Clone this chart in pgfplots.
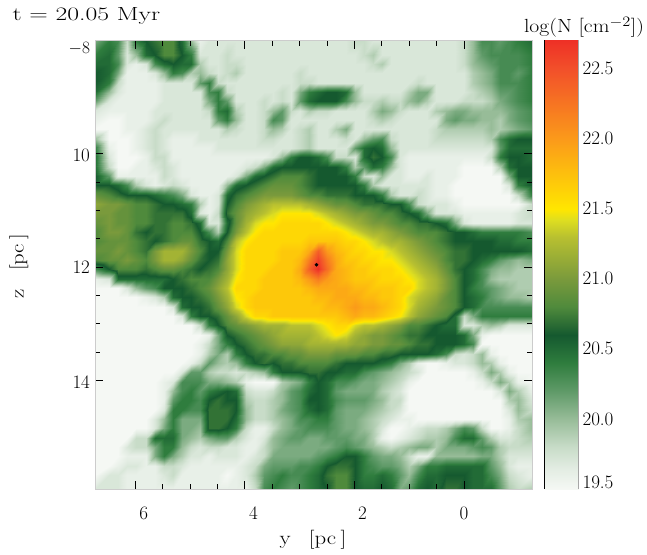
\documentclass[border=0pt]{standalone}
\usepackage{pgfplots}
\pgfplotsset{compat=1.18}
\newcount\ix \newcount\iy
\newtoks\coordtoks
\makeatletter
\def\addcell#1{\ifnum\ix<48
 \edef\cx{\strip@pt\dimexpr 6.6371pt-0.1658pt*\ix\relax}%
 \edef\cy{\strip@pt\dimexpr 8.0874pt+0.1648pt*\iy\relax}%
 \ifnum\ix=0 \def\cx{6.72}\fi \ifnum\ix=47 \def\cx{-1.24}\fi
 \ifnum\iy=0 \def\cy{8.005}\fi \ifnum\iy=47 \def\cy{15.915}\fi
 \edef\tmp{(\cx,\cy) [#1e-1] }%
 \coordtoks\expandafter\expandafter\expandafter{\expandafter\the\expandafter\coordtoks\tmp}%
 \advance\ix by 1 \fi\edef\lastv{#1}}
\def\rowscan#1 {\ifx @#1\else\addcell{#1}\expandafter\rowscan\fi}
\def\R#1{\ix=0 \rowscan#1 @ \loop\ifnum\ix<48 \addcell{\lastv}\repeat\advance\iy by 1 }
\makeatother
\R{201 204 203 198 204 206 207 208 208 205 200 196 197 197 197 197 197 197 197 197 197 197 197 197 197 197 197 197 198 198 197 197 197 197 197 197 197 197 197 197 198 200 203 203 202 203 204 205}
\R{204 205 202 197 200 205 206 208 208 206 204 197 197 197 198 197 197 197 197 197 197 197 197 197 197 197 197 197 197 198 199 197 197 197 197 197 197 197 197 197 198 200 202 203 203 203 203 204}
\R{205 205 203 197 196 197 203 205 206 205 205 199 197 197 198 198 197 197 197 197 197 197 197 197 197 197 197 197 197 197 198 199 197 197 197 197 197 197 197 197 198 200 201 202 203 203 203 204}
\R{206 205 201 196 196 196 197 200 204 203 199 200 198 197 198 199 197 197 197 197 197 197 198 197 197 197 197 197 197 197 197 197 197 197 197 197 197 197 197 197 197 199 200 201 203 203 202 204}
\R{206 204 198 196 196 196 196 197 197 197 197 202 204 198 197 197 197 197 197 197 197 197 198 198 197 197 197 197 197 197 197 197 197 197 197 198 197 197 197 197 197 199 200 201 203 203 203 204}
\R{205 200 197 196 196 196 196 197 197 197 197 197 203 204 198 197 197 197 197 197 198 197 201 204 205 206 206 205 200 197 197 197 197 197 199 201 201 197 197 197 197 198 199 200 202 202 203 204}
\R{202 197 196 196 196 196 196 197 197 197 197 197 201 204 202 197 197 197 198 197 198 197 202 205 206 206 206 203 200 198 198 199 198 198 200 201 199 197 197 197 198 198 198 199 201 202 203 204}
\R{197 196 196 196 196 196 197 197 197 197 197 197 198 204 205 199 197 197 198 200 202 198 197 199 198 198 197 197 197 197 199 201 200 198 197 197 197 199 200 201 201 200 200 200 200 201 202 203}
\R{196 195 195 196 196 196 197 198 197 197 197 197 197 202 204 200 197 197 198 203 202 197 197 197 197 197 197 197 197 197 198 199 198 197 197 197 197 197 201 202 201 201 200 200 199 201 202 203}
\R{195 195 195 196 196 197 198 197 197 197 197 197 197 197 199 198 197 197 198 200 199 197 198 199 197 197 199 201 197 197 197 197 197 197 197 197 197 198 199 199 199 199 199 200 199 200 201 202}
\R{200 195 195 195 196 197 198 197 196 196 196 197 197 197 197 197 197 197 198 198 197 197 198 199 197 197 197 198 197 200 202 203 198 197 197 197 197 198 198 198 198 198 198 199 203 205 206 206}
\R{204 196 195 195 196 197 198 197 196 196 196 196 196 197 197 197 197 197 197 197 197 197 198 199 197 197 197 197 202 205 206 205 200 197 197 197 197 197 197 197 197 197 197 197 202 205 205 205}
\R{205 197 195 195 195 196 198 198 196 196 196 196 196 196 196 196 196 196 196 197 200 204 206 206 205 203 198 198 197 205 207 206 203 197 196 196 196 196 196 196 196 196 196 198 204 206 206 205}
\R{205 198 195 195 196 196 197 198 197 196 196 196 196 196 196 196 197 198 201 205 206 206 206 206 206 206 206 204 199 202 205 204 200 197 196 196 196 196 196 196 195 195 195 195 199 205 206 206}
\R{206 202 196 196 196 196 196 198 197 196 196 196 196 196 196 197 201 205 206 207 208 208 208 207 206 206 206 206 204 198 197 200 197 197 196 196 197 196 196 196 195 195 195 195 195 201 206 206}
\R{206 206 205 203 199 197 196 197 198 197 196 196 196 196 200 205 206 207 208 209 209 209 208 207 206 206 206 206 206 204 199 197 197 197 197 197 197 196 196 195 195 195 195 195 195 197 204 206}
\R{209 208 207 206 206 206 205 204 203 201 197 196 196 197 205 207 208 209 210 210 210 210 209 208 208 207 207 207 206 206 206 204 199 197 197 198 197 196 196 195 195 195 195 195 195 195 198 204}
\R{211 210 210 209 208 208 207 206 206 205 204 199 196 197 206 208 210 211 212 213 213 213 213 212 211 210 209 209 208 207 207 207 206 206 203 198 197 197 197 196 195 195 195 195 195 195 195 198}
\R{210 210 209 209 208 208 207 207 207 207 205 197 196 198 207 209 211 212 213 214 215 215 215 215 214 213 212 211 210 210 209 208 208 207 206 205 201 197 197 197 196 196 196 196 196 196 197 198}
\R{209 210 209 209 208 208 207 207 208 208 207 205 197 197 205 209 212 214 215 215 216 216 216 216 216 215 214 213 212 211 210 210 209 208 208 207 207 206 205 201 197 196 196 196 196 196 197 197}
\R{208 210 210 209 207 206 207 207 208 208 208 206 203 199 206 210 213 215 216 216 216 216 216 216 216 216 216 215 214 213 212 212 211 210 209 208 208 208 207 206 206 205 204 204 204 204 204 203}
\R{208 209 209 209 208 207 206 207 208 209 209 207 206 205 208 213 215 216 216 216 216 216 216 217 217 217 217 216 216 215 214 213 212 212 211 210 209 208 207 206 206 206 206 206 205 205 204 204}
\R{209 209 210 209 208 207 210 212 212 212 210 208 206 206 210 214 216 216 216 216 217 217 217 219 224 220 218 217 216 216 215 215 214 213 212 211 210 209 208 207 207 206 206 206 206 206 206 205}
\R{208 209 209 210 209 208 210 212 212 211 209 207 206 207 211 214 216 216 216 216 217 217 218 222 226 222 219 217 217 216 216 215 215 214 213 212 211 210 208 207 207 206 205 204 202 201 200 201}
\R{203 206 208 208 208 207 208 209 209 208 207 206 207 208 211 214 216 216 216 217 217 217 219 224 227 223 219 218 217 217 216 216 216 215 214 213 212 211 209 207 206 205 203 201 200 200 199 199}
\R{196 197 205 205 205 205 205 205 206 207 208 208 208 210 212 215 216 216 217 217 217 217 218 220 222 220 219 218 217 217 217 216 216 216 215 214 213 212 210 208 206 205 203 200 199 199 199 199}
\R{195 195 195 197 200 202 203 206 206 206 207 208 209 211 213 216 216 216 217 217 217 217 217 218 219 219 219 219 218 218 217 217 217 216 216 214 213 212 210 208 206 204 203 202 201 200 199 199}
\R{195 195 195 195 195 196 197 199 205 206 206 207 208 210 212 215 216 217 217 217 217 217 217 217 218 218 219 219 219 218 218 217 217 216 214 213 212 211 209 208 206 205 204 202 201 200 200 199}
\R{195 195 195 195 195 195 195 195 197 205 206 206 207 209 211 214 216 217 217 217 217 217 217 217 217 218 218 219 220 219 219 218 217 216 214 212 211 210 209 208 206 205 203 203 203 203 203 203}
\R{195 195 195 195 195 195 195 195 195 197 204 206 206 207 209 211 214 216 216 217 217 217 217 217 217 217 217 218 219 218 218 217 216 215 213 211 210 209 208 205 198 201 204 204 204 204 204 204}
\R{195 195 195 195 195 195 195 195 195 195 195 198 204 206 208 209 210 211 212 212 212 213 213 213 214 215 216 216 214 213 213 212 211 210 208 208 207 206 205 205 197 197 199 200 199 197 197 197}
\R{195 195 195 195 195 195 195 195 195 195 195 195 196 201 206 207 208 209 210 211 212 212 212 212 213 214 215 214 212 211 210 210 209 208 207 207 206 206 206 206 205 201 196 195 195 195 195 195}
\R{195 195 195 195 195 195 195 195 195 195 195 196 198 201 204 206 207 208 209 210 211 211 211 212 212 212 212 212 211 211 210 210 209 209 208 207 207 206 206 206 205 203 195 195 195 195 195 195}
\R{195 195 195 195 195 195 195 195 195 195 195 196 199 201 199 204 206 207 207 208 208 209 209 210 210 210 209 209 209 208 208 207 207 206 206 206 206 205 203 198 197 198 200 196 195 195 195 195}
\R{195 195 195 195 195 195 195 195 195 195 196 198 202 200 199 200 204 206 207 206 207 207 208 208 208 208 207 206 206 206 206 205 204 201 199 196 195 195 196 197 197 198 200 199 196 195 195 195}
\R{195 195 195 195 195 195 195 195 195 197 202 202 199 198 198 197 198 199 200 204 206 206 206 207 207 206 206 205 205 203 202 201 200 199 198 197 195 195 195 195 195 196 198 201 199 196 195 195}
\R{195 195 195 195 195 195 195 196 197 203 203 203 201 201 200 199 196 195 195 195 199 200 201 204 206 205 203 203 202 201 201 200 199 198 196 195 195 195 195 195 195 195 196 198 201 199 196 195}
\R{195 195 195 195 195 195 195 196 200 203 204 202 204 205 206 205 198 197 197 198 200 202 203 205 206 205 202 201 201 201 201 199 198 197 195 195 195 195 195 195 195 195 195 195 197 201 199 196}
\R{195 195 195 195 195 195 195 196 202 204 204 203 206 207 206 206 199 198 198 199 200 202 203 206 206 205 203 202 202 202 201 200 198 198 195 195 195 195 195 195 195 195 195 195 195 199 200 197}
\R{195 195 195 195 195 195 195 197 204 204 203 203 207 207 207 206 200 198 198 199 201 202 203 205 206 205 202 201 201 201 200 199 198 197 195 195 195 195 195 195 195 195 195 195 195 197 200 198}
\R{195 195 195 195 195 195 197 200 204 201 201 201 207 207 207 205 200 198 198 199 200 201 203 203 204 204 202 201 201 200 199 198 197 196 196 195 195 195 195 195 195 195 195 195 195 196 199 200}
\R{195 195 195 195 195 195 197 201 204 201 201 200 207 207 206 204 198 196 196 198 200 201 202 203 203 203 202 201 201 200 199 197 195 195 196 197 198 198 199 201 203 202 198 195 195 196 198 200}
\R{195 195 195 195 198 198 205 205 205 201 200 199 201 202 202 199 197 196 197 200 201 202 202 201 201 202 202 202 201 201 199 196 195 196 197 198 199 199 200 203 205 205 202 199 197 197 198 199}
\R{195 195 195 197 198 198 201 204 204 200 198 197 198 198 197 197 196 196 198 200 201 201 201 201 201 201 202 203 202 201 200 199 198 199 200 201 201 199 201 201 201 202 203 202 199 198 198 198}
\R{195 195 195 196 196 196 201 204 201 199 197 197 196 197 197 197 196 197 198 201 201 201 201 201 202 203 204 206 206 204 202 201 201 200 198 196 196 200 200 200 200 200 201 201 199 197 197 197}
\R{195 195 196 197 197 196 196 198 198 197 196 196 196 196 196 196 197 198 201 202 202 202 203 203 204 206 207 207 206 204 203 202 202 201 199 201 204 204 205 205 205 205 205 202 200 197 196 196}
\R{195 197 197 196 196 196 196 197 198 196 196 196 196 196 195 196 197 199 202 203 204 203 203 204 205 207 208 208 206 204 204 205 204 202 200 203 205 205 206 206 206 205 205 203 201 198 197 196}
\R{197 197 197 196 196 196 196 196 196 196 196 196 196 196 196 196 196 198 203 204 203 202 203 204 205 206 208 208 206 205 205 206 205 201 202 205 206 205 207 207 206 205 205 205 202 199 198 199}
\edef\plotcmd{\noexpand\addplot[surf, shader=interp, mesh/cols=48, point meta=explicit] coordinates {\the\coordtoks};}
\pgfplotsset{colormap={ref}{
 rgb255(1950)=(245,248,244) rgb255(1965)=(226,236,226) rgb255(1980)=(200,220,200) rgb255(2000)=(151,188,152)
 rgb255(2020)=(95,154,104) rgb255(2040)=(47,125,62) rgb255(2060)=(21,89,47) rgb255(2080)=(79,138,60)
 rgb255(2100)=(122,154,60) rgb255(2130)=(184,192,48) rgb255(2142)=(222,222,32) rgb255(2150)=(255,230,0)
 rgb255(2200)=(251,154,26) rgb255(2250)=(242,80,42) rgb255(2270)=(238,48,38)}}
\newcommand{\fnt}{\fontsize{19}{21}\selectfont}
\begin{document}
\begin{tikzpicture}
\path[use as bounding box] (0pt,0pt) rectangle (647pt,554pt);
\begin{axis}[at={(95.5pt,65pt)}, anchor=south west, scale only axis, width=436.5pt, height=448.5pt,
  xmin=-1.24, xmax=6.72, ymin=8.005, ymax=15.915, x dir=reverse, y dir=reverse,
  axis on top, axis line style={gray!40, line width=0.5pt},
  tick align=inside, major tick length=8pt, minor tick length=5pt,
  every tick/.style={black, line width=0.5pt},
  xtick={6,4,2,0}, xticklabels={}, minor x tick num=3,
  ytick={10,12,14}, yticklabels={}, minor y tick num=3,
  extra x ticks={5.84,3.84,1.85,0}, extra x tick labels={6,4,2,0},
  extra y ticks={8.14,10.03,12.0,14.03}, extra y tick labels={$-8$,10,12,14},
  extra tick style={major tick length=0pt},
  tick label style={font=\fnt},
  xticklabel style={yshift=-14pt},
  yticklabel style={xshift=-2pt},
  colormap name=ref, point meta min=19.5, point meta max=22.7,
  clip=true]
\plotcmd
\addplot[only marks, mark=*, mark size=1.6pt, black] coordinates {(2.69,11.96)};
\end{axis}
\begin{axis}[at={(544.5pt,65pt)}, anchor=south west, scale only axis, width=33.5pt, height=448.5pt,
  xmin=0, xmax=1, ymin=19.5, ymax=22.7, axis on top,
  axis y line*=right, axis x line=none,
  axis line style={gray!70, line width=0.5pt},
  xtick=\empty, major tick length=0pt,
  ytick={19.55,20,20.5,21,21.5,22,22.5}, yticklabels={19.5,20.0,20.5,21.0,21.5,22.0,22.5},
  tick label style={font=\fnt}, yticklabel style={xshift=1pt},
  colormap name=ref, point meta min=19.5, point meta max=22.7, clip=true]
\addplot[surf, shader=interp, mesh/cols=2, point meta=y] coordinates {
 (0,19.5)(1,19.5) (0,19.65)(1,19.65) (0,19.8)(1,19.8) (0,20.0)(1,20.0) (0,20.2)(1,20.2)
 (0,20.4)(1,20.4) (0,20.6)(1,20.6) (0,20.8)(1,20.8) (0,21.0)(1,21.0) (0,21.3)(1,21.3)
 (0,21.42)(1,21.42) (0,21.5)(1,21.5) (0,22.0)(1,22.0) (0,22.5)(1,22.5) (0,22.7)(1,22.7)};
\end{axis}
\draw[black, line width=0.6pt] (544.5pt,65pt) -- (544.5pt,513.5pt);
\node[anchor=west, font=\fnt] at (9pt,538pt) {\scalebox{1.35}[1]{t = 20.05 Myr}};
\node[anchor=center, font=\fnt] at (313pt,14pt) {\scalebox{1.2}[1]{y\hspace{0.8em}[pc\hspace{0.2em}]}};
\node[anchor=center, font=\fnt, rotate=90] at (19pt,288pt) {\scalebox{1.2}[1]{z\hspace{0.8em}[pc\hspace{0.2em}]}};
\node[anchor=center, font=\fnt] at (584pt,527pt) {\scalebox{1.14}[1]{log(N [cm$^{-2}$])}};
\end{tikzpicture}
\end{document}
